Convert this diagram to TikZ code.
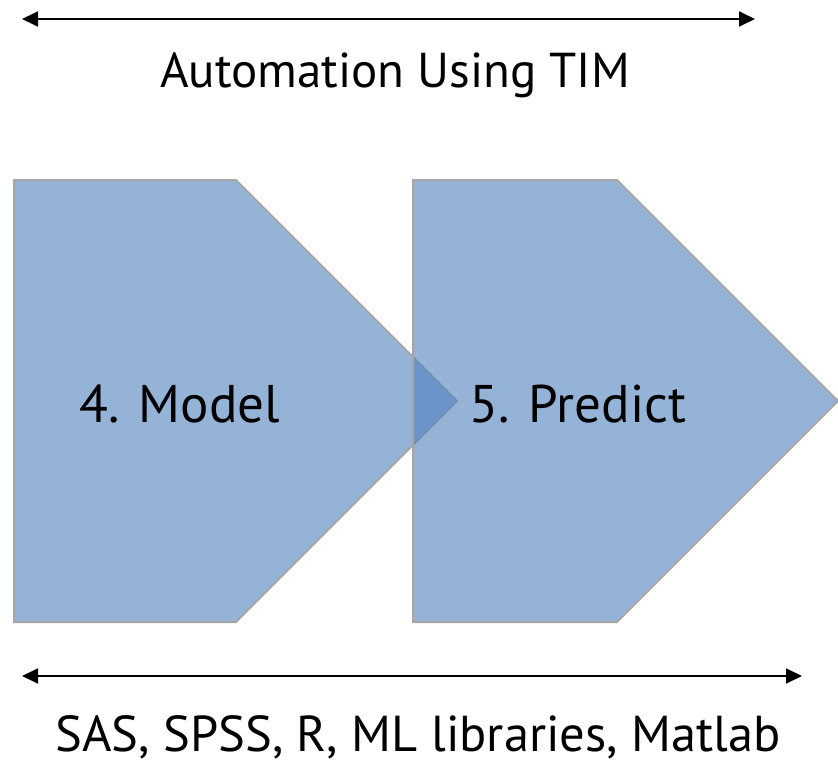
\documentclass[tikz,border=0pt]{standalone}
\usepackage{fontspec}
\setmainfont{PT Sans}
\usetikzlibrary{arrows.meta}
\definecolor{stepfill}{HTML}{4F81BD}
\definecolor{stepline}{HTML}{A6A6A6}
\tikzset{
  chevron/.style={fill=stepfill, fill opacity=0.6, draw=stepline, line width=2pt, line join=miter},
  span/.style={{Triangle[length=16pt,width=15pt]}-{Triangle[length=16pt,width=15pt]}, line width=1.8pt, black},
  label/.style={anchor=base, inner sep=0pt, font=\fontsize{49}{54}\selectfont},
  toollabel/.style={anchor=base, inner sep=0pt, font=\fontsize{50.5}{55}\selectfont},
  steplabel/.style={anchor=base, inner sep=0pt, font=\fontsize{53}{58}\selectfont},
}
\begin{document}
\begin{tikzpicture}[x=1pt,y=-1pt]
  \useasboundingbox (0,0) rectangle (838,765);

  % top span: automation
  \coordinate (topL) at (22,19);
  \coordinate (topR) at (755,19);
  \draw[span] (topL) -- (topR);
  \node[label] (auto) at (395,88) {Automation Using TIM};

  % process chevrons
  \draw[chevron] (14,180) -- (236,180) -- (457,401) -- (236,622) -- (14,622) -- cycle;
  \draw[chevron] (413,180) -- (617,180) -- (838,401) -- (617,622) -- (413,622) -- cycle;
  \node[steplabel] (model) at (180,422) {4. Model};
  \node[steplabel] (predict) at (578,422) {5. Predict};

  % bottom span: tools
  \coordinate (botL) at (22,676);
  \coordinate (botR) at (802,676);
  \draw[span] (botL) -- (botR);
  \node[toollabel] (tools) at (418,751) {SAS, SPSS, R, ML libraries, Matlab};
\end{tikzpicture}
\end{document}
